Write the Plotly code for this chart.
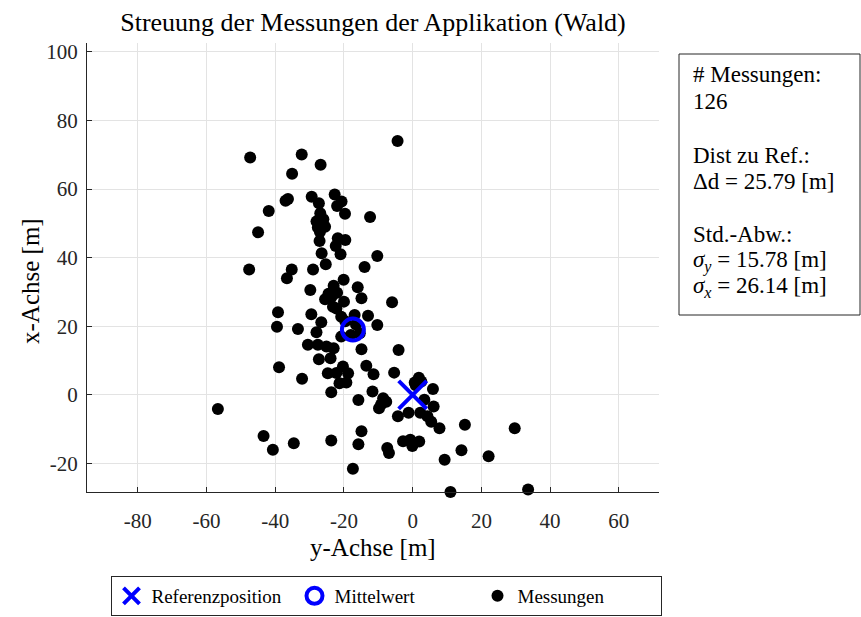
import plotly.graph_objects as go

# Messpunkte: horizontale Achse = y-Achse [m], vertikale Achse = x-Achse [m]
mess_y = [
    -20.3, -4.4, -47.3, -32.3, -26.8, -35.1, -36.3, -37.0, -29.4, -27.3,
    -22.7, -20.7, -22.0, -19.7, -12.4, -41.9, -45.0, -26.9, -28.0, -26.0,
    -27.6, -25.5, -27.1, -26.5, -25.3, -21.8, -19.6, -22.4, -21.0, -10.3,
    -47.6, -35.2, -29.0, -14.0, -36.6, -20.1, -23.0, -16.0, -29.8, -25.5,
    -23.6, -20.0, -14.9, -6.0, -23.2, -22.2, -39.2, -29.5, -26.6, -16.9,
    -13.0, -20.8, -39.5, -33.4, -10.3, -28.0, -20.8, -15.4, -30.5, -27.6,
    -25.1, -23.0, -14.9, -4.1, -27.3, -23.9, -38.9, -32.2, -24.7, -22.2,
    -20.3, -18.8, -13.5, -11.4, -5.4, 1.8, 0.6, -21.3, -19.3, -23.7,
    -11.7, -15.8, -8.6, -7.7, -9.8, 5.9, 3.4, 6.1, -4.3, -1.2,
    2.2, 4.3, 5.4, 7.8, 15.2, 29.7, -14.9, -56.7, -43.4, -40.7,
    -34.6, -23.7, -15.8, -7.4, -6.9, -2.8, -0.7, -0.1, 1.9, 9.3,
    14.2, 22.1, -17.4, 11.0, 33.6, -26.8, -27.0, -24.5, -22.0, -18.0,
    -16.5, 0.9, 2.5, -19.6, -0.3, -9.2,
]
mess_x = [
    103.0, 74.0, 69.2, 70.1, 67.1, 64.5, 57.1, 56.6, 57.8, 55.9,
    58.4, 56.4, 55.1, 52.8, 51.9, 53.6, 47.4, 53.0, 50.6, 51.2,
    48.8, 49.0, 44.9, 41.3, 38.1, 45.7, 45.2, 43.4, 41.0, 40.5,
    36.6, 36.6, 36.6, 37.3, 34.0, 33.6, 31.8, 31.4, 30.6, 27.9,
    28.6, 27.2, 28.2, 27.0, 25.7, 25.2, 24.1, 23.5, 21.2, 23.3,
    23.1, 22.8, 19.9, 19.2, 20.4, 18.3, 17.0, 18.0, 14.6, 14.6,
    14.1, 13.6, 13.3, 13.1, 10.4, 10.7, 8.1, 4.7, 6.3, 6.4,
    8.3, 6.3, 8.5, 6.0, 6.5, 5.0, 3.6, 3.4, 3.6, 0.8,
    1.0, -1.5, -1.0, -2.0, -3.9, 1.7, -1.4, -3.4, -6.2, -5.2,
    -5.2, -6.2, -7.8, -9.7, -8.7, -9.7, -10.6, -4.1, -12.0, -16.0,
    -14.1, -13.3, -14.4, -15.5, -16.9, -13.5, -13.1, -14.9, -13.6, -18.9,
    -16.1, -17.9, -21.5, -28.3, -27.6, 50.0, 47.5, 29.5, 29.8, 17.5,
    20.5, 2.8, 3.9, 21.5, -13.8, -2.8,
]

# Referenzposition und Mittelwert
ref_y, ref_x = [0.0], [0.0]
mittel_y, mittel_x = [-17.4], [19.05]

# Kennwerte für das Textfeld
anzahl = 126
dist_ref = 25.79
std_y = 15.78
std_x = 26.14

x_ticks = [-80, -60, -40, -20, 0, 20, 40, 60]
y_ticks = [-20, 0, 20, 40, 60, 80, 100]

FONT = "Liberation Serif"
AXIS_COL = "#262626"
BLUE = "#0000ff"

fig = go.Figure()

fig.add_trace(go.Scatter(
    x=mess_y, y=mess_x, mode="markers", name="Messungen",
    marker=dict(color="black", size=12, line=dict(width=0)),
    legendrank=3, cliponaxis=False,
))
fig.add_trace(go.Scatter(
    x=ref_y, y=ref_x, mode="markers", name="Referenzposition",
    marker=dict(symbol="x-thin", size=28, line=dict(color=BLUE, width=4)),
    legendrank=1,
))
fig.add_trace(go.Scatter(
    x=mittel_y, y=mittel_x, mode="markers", name="Mittelwert",
    marker=dict(symbol="circle-open", size=22, color=BLUE, line=dict(color=BLUE, width=4)),
    legendrank=2,
))

W, H = 861, 617
L, R, T, B = 87, 202, 43, 125

axis_common = dict(
    showgrid=True, gridcolor="#e3e3e3", gridwidth=1,
    zeroline=False, showline=True, linecolor=AXIS_COL, linewidth=1,
    ticks="inside", ticklen=5, tickcolor=AXIS_COL, tickwidth=1,
    tickfont=dict(family=FONT, size=21, color=AXIS_COL),
    mirror=False,
)

pw, ph = W - L - R, H - T - B


def px_x(p):
    return (p - L) / pw


def px_y(p):
    return (H - B - p) / ph


fig.update_layout(
    width=W, height=H,
    margin=dict(l=L, r=R, t=T, b=B, pad=0, autoexpand=False),
    paper_bgcolor="white", plot_bgcolor="white",
    font=dict(family=FONT, color="black"),
    xaxis=dict(range=[-94.8, 71.7], tickvals=x_ticks,
               ticktext=[str(v) for v in x_ticks], ticklabelstandoff=10, **axis_common),
    yaxis=dict(range=[-28.3, 102.6], tickvals=y_ticks,
               ticktext=[str(v) for v in y_ticks], ticklabelstandoff=4, **axis_common),
    title=dict(text="Streuung der Messungen der Applikation (Wald)",
               font=dict(family=FONT, size=26, color="black"),
               x=(87 + 659) / 2 / W, xanchor="center",
               y=1 - 22 / H, yanchor="middle", yref="container", xref="container"),
    showlegend=True,
    legend=dict(
        orientation="h", x=px_x(386), xanchor="center", y=px_y(596), yanchor="middle",
        bgcolor="white", bordercolor=AXIS_COL, borderwidth=1,
        font=dict(family=FONT, size=19, color="black"),
        itemsizing="trace", entrywidth=138, entrywidthmode="pixels",
    ),
)

# Achsentitel
fig.add_annotation(text="y-Achse [m]", x=px_x(373), y=px_y(547), xref="paper", yref="paper",
                   showarrow=False, font=dict(family=FONT, size=25, color="black"),
                   xanchor="center", yanchor="middle")
fig.add_annotation(text="x-Achse [m]", x=px_x(30), y=px_y(281), xref="paper", yref="paper",
                   showarrow=False, textangle=-90, font=dict(family=FONT, size=25, color="black"),
                   xanchor="center", yanchor="middle")

# Textfeld mit Kennwerten
fig.add_shape(type="rect", xref="paper", yref="paper",
              x0=px_x(679), x1=px_x(860), y0=px_y(315), y1=px_y(54),
              line=dict(color=AXIS_COL, width=1), fillcolor="white", layer="above")

zeilen = [
    ("# Messungen:", 75),
    (f"{anzahl}", 101),
    ("Dist zu Ref.:", 155),
    (f"Δd = {dist_ref:.2f} [m]", 181),
    ("Std.-Abw.:", 235),
    (f"<i>σ</i><sub><i>y</i></sub> = {std_y:.2f} [m]", 261),
    (f"<i>σ</i><sub><i>x</i></sub> = {std_x:.2f} [m]", 287),
]
for txt, ypx in zeilen:
    fig.add_annotation(text=txt, x=px_x(691), y=px_y(ypx), xref="paper", yref="paper",
                       showarrow=False, xanchor="left", yanchor="middle",
                       font=dict(family=FONT, size=23, color="black"))

fig.write_html("out.html")
